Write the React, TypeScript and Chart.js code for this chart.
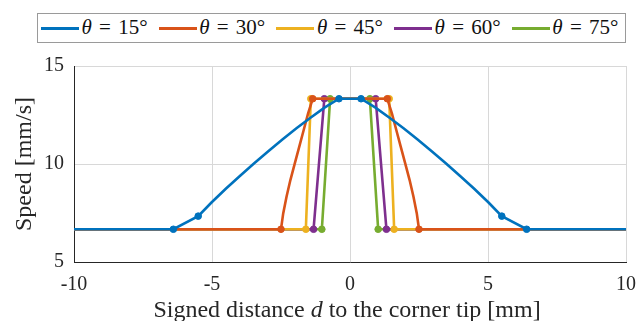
import React, { useEffect, useRef } from "react";
import { Chart, registerables } from "chart.js";

Chart.register(...registerables);

// ---- data ----
const thetaLabels = ["15°", "30°", "45°", "60°", "75°"];

const xTickValues = [-10, -5, 0, 5, 10];
const yTickValues = [5, 10, 15];

// theta = 15°
const d15 = [-10, -6.4, -5.5, -5.01, -4.5, -3.98, -3.47, -2.96, -2.45, -1.94, -1.42, -0.91, -0.4, 0.4, 0.91, 1.42, 1.94, 2.45, 2.96, 3.47, 3.98, 4.5, 5.01, 5.5, 6.4, 10];
const s15 = [6.67, 6.67, 7.34, 8.05, 8.74, 9.4, 10.04, 10.65, 11.25, 11.82, 12.37, 12.89, 13.33, 13.33, 12.89, 12.37, 11.82, 11.25, 10.65, 10.04, 9.4, 8.74, 8.05, 7.34, 6.67, 6.67];
const mark15D = [-6.4, -5.5, -0.4, 0.4, 5.5, 6.4];
const mark15S = [6.67, 7.34, 13.33, 13.33, 7.34, 6.67];

// theta = 30°
const d30 = [-10, -2.5, -2.42, -2.3, -2.16, -2.0, -1.84, -1.68, -1.52, -1.35, 1.35, 1.52, 1.68, 1.84, 2.0, 2.16, 2.3, 2.42, 2.5, 10];
const s30 = [6.67, 6.67, 7.48, 8.33, 9.18, 10.03, 10.87, 11.72, 12.57, 13.33, 13.33, 12.57, 11.72, 10.87, 10.03, 9.18, 8.33, 7.48, 6.67, 6.67];
const mark30D = [-2.5, -1.35, 1.35, 2.5];
const mark30S = [6.67, 13.33, 13.33, 6.67];

// theta = 45°
const d45 = [-10, -1.6, -1.42, 1.42, 1.6, 10];
const s45 = [6.67, 6.67, 13.33, 13.33, 6.67, 6.67];
const mark45D = [-1.6, -1.42, 1.42, 1.6];
const mark45S = [6.67, 13.33, 13.33, 6.67];

// theta = 60°
const d60 = [-10, -1.32, -0.93, 0.93, 1.32, 10];
const s60 = [6.67, 6.67, 13.33, 13.33, 6.67, 6.67];
const mark60D = [-1.32, -0.93, 0.93, 1.32];
const mark60S = [6.67, 13.33, 13.33, 6.67];

// theta = 75°
const d75 = [-10, -1.02, -0.72, 0.72, 1.02, 10];
const s75 = [6.67, 6.67, 13.33, 13.33, 6.67, 6.67];
const mark75D = [-1.02, -0.72, 0.72, 1.02];
const mark75S = [6.67, 13.33, 13.33, 6.67];

// ---- styles ----
const COLORS = ["#0072BD", "#D95319", "#EDB120", "#7E2F8E", "#77AC30"];
const FONT = '"Liberation Serif", "Times New Roman", Times, serif';
const TEXT = "#262626";

const zip = (xs: number[], ys: number[]) => xs.map((x, i) => ({ x, y: ys[i] }));

const lines = [
  [d15, s15, mark15D, mark15S],
  [d30, s30, mark30D, mark30S],
  [d45, s45, mark45D, mark45S],
  [d60, s60, mark60D, mark60S],
  [d75, s75, mark75D, mark75S],
];

export default function App() {
  const ref = useRef<HTMLCanvasElement | null>(null);

  useEffect(() => {
    if (!ref.current) return;
    const datasets: any[] = [];
    lines.forEach(([dx, sy, mx, my], i) => {
      datasets.push({
        label: "m" + thetaLabels[i],
        data: zip(mx as number[], my as number[]),
        showLine: false,
        pointRadius: 3.3,
        pointHoverRadius: 3.3,
        pointBackgroundColor: COLORS[i],
        pointBorderColor: COLORS[i],
        pointBorderWidth: 1,
      });
      datasets.push({
        label: thetaLabels[i],
        data: zip(dx as number[], sy as number[]),
        borderColor: COLORS[i],
        borderWidth: 2.6,
        pointRadius: 0,
        tension: 0,
        fill: false,
      });
    });

    const chart = new Chart(ref.current, {
      type: "line",
      data: { datasets },
      options: {
        animation: false,
        responsive: false,
        devicePixelRatio: 1,
        layout: { padding: { left: 0, top: 66, right: 12, bottom: 0 } },
        plugins: { legend: { display: false }, tooltip: { enabled: false } },
        scales: {
          x: {
            type: "linear",
            min: -10,
            max: 10,
            afterBuildTicks: (s: any) => {
              s.ticks = xTickValues.map((v) => ({ value: v }));
            },
            afterFit: (s: any) => {
              s.height = 59;
              s.paddingLeft = 0;
              s.paddingRight = 0;
            },
            grid: { color: "#d8d8d8", lineWidth: 1, drawTicks: false },
            border: { color: TEXT, width: 1 },
            ticks: {
              color: TEXT,
              padding: 11,
              maxRotation: 0,
              font: { family: FONT, size: 20 },
              callback: (v: any) => String(v),
            },
          },
          y: {
            type: "linear",
            min: 5,
            max: 15,
            afterBuildTicks: (s: any) => {
              s.ticks = yTickValues.map((v) => ({ value: v }));
            },
            afterFit: (s: any) => {
              s.width = 74;
              s.paddingTop = 0;
              s.paddingBottom = 0;
            },
            grid: { color: "#d8d8d8", lineWidth: 1, drawTicks: false },
            border: { color: TEXT, width: 1 },
            ticks: {
              color: TEXT,
              padding: 10,
              font: { family: FONT, size: 20 },
              callback: (v: any) => String(v),
            },
            title: {
              display: true,
              text: "Speed [mm/s]",
              color: TEXT,
              font: { family: FONT, size: 24 },
              padding: { top: 10, bottom: 0 },
            },
          },
        },
      },
    });
    let alive = true;
    const fonts: any = (document as any).fonts;
    if (fonts && fonts.load) {
      Promise.all([
        fonts.load('20px "Liberation Serif"'),
        fonts.load('italic 20px "Liberation Serif"'),
      ])
        .catch(() => null)
        .then(() => {
          if (alive) chart.update();
        });
    }
    return () => {
      alive = false;
      chart.destroy();
    };
  }, []);

  const itemPitch = 117.7;
  return (
    <div style={{ position: "absolute", left: 0, top: 0, width: 638, height: 321, background: "#fff", overflow: "hidden" }}>
      <canvas ref={ref} width={638} height={321} style={{ width: 638, height: 321, display: "block" }} />
      <div
        style={{
          position: "absolute",
          left: 37,
          top: 13,
          width: 587,
          height: 28,
          border: "1px solid #9a9a9a",
          background: "#fff",
          boxSizing: "content-box",
        }}
      />
      {thetaLabels.map((lab, i) => (
        <React.Fragment key={lab}>
          <div
            style={{
              position: "absolute",
              left: 41 + i * itemPitch,
              top: 27,
              width: 38,
              height: 2.8,
              background: COLORS[i],
            }}
          />
          <div
            style={{
              position: "absolute",
              left: 81.5 + i * itemPitch,
              top: 16.5,
              fontFamily: FONT,
              fontSize: 21,
              lineHeight: "21px",
              wordSpacing: 2,
              color: "#111",
              whiteSpace: "nowrap",
            }}
          >
            <i>θ</i> = {lab}
          </div>
        </React.Fragment>
      ))}
      <div
        style={{
          position: "absolute",
          left: 147,
          width: 400,
          top: 297,
          textAlign: "center",
          fontFamily: FONT,
          fontSize: 24,
          lineHeight: "24px",
          color: TEXT,
          whiteSpace: "nowrap",
        }}
      >
        Signed distance <i>d</i> to the corner tip [mm]
      </div>
    </div>
  );
}
